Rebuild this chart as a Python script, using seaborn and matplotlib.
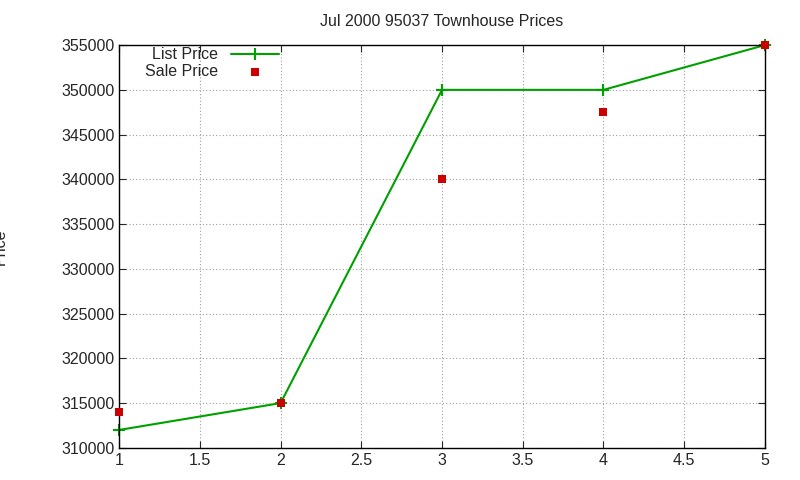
import matplotlib
matplotlib.use("Agg")
import matplotlib.pyplot as plt
import seaborn as sns
import pandas as pd

x = [1, 2, 3, 4, 5]
list_price = [312000, 315000, 350000, 350000, 355000]
sale_price = [314000, 315000, 340000, 347500, 355000]

sns.set_style("ticks")
plt.rcParams['font.family'] = ['Liberation Sans', 'DejaVu Sans']
fig = plt.figure(figsize=(8, 4.8), dpi=100)
ax = fig.add_axes([0.149, 0.067, 0.807, 0.839])
df = pd.DataFrame({"x": x, "list": list_price, "sale": sale_price})
sns.lineplot(data=df, x="x", y="list", ax=ax, color="#00a000", marker="+",
             markersize=9, markeredgewidth=1.5, markeredgecolor="#00a000",
             linewidth=1.5, label="List Price", clip_on=False)
sns.scatterplot(data=df, x="x", y="sale", ax=ax, color="#cc0000", marker="s",
                s=36, linewidth=0, label="Sale Price", zorder=3, clip_on=False)
ax.set_xlim(1, 5)
ax.set_ylim(310000, 355000)
ax.set_xticks([1, 1.5, 2, 2.5, 3, 3.5, 4, 4.5, 5])
ax.set_xticklabels(["1", "1.5", "2", "2.5", "3", "3.5", "4", "4.5", "5"])
ax.set_yticks(range(310000, 355001, 5000))
ax.grid(True, color="#a0a0a0", linestyle=(0, (1, 2)), linewidth=0.8)
ax.tick_params(direction="in", top=True, right=True, labelsize=11.5, length=5)
for s in ax.spines.values():
    s.set_color("black"); s.set_linewidth(1)
ax.set_xlabel("")
ax.set_ylabel("Price", fontsize=11.5, labelpad=38)
ax.set_title("Jul 2000 95037 Townhouse Prices", fontsize=11.5, pad=14)
leg = ax.legend(loc="upper left", frameon=False, markerfirst=False, fontsize=11.5,
                handlelength=3, borderaxespad=0.0, labelspacing=0.1,
                bbox_to_anchor=(0.03, 1.01))
fig.savefig("out.png", dpi=100)
